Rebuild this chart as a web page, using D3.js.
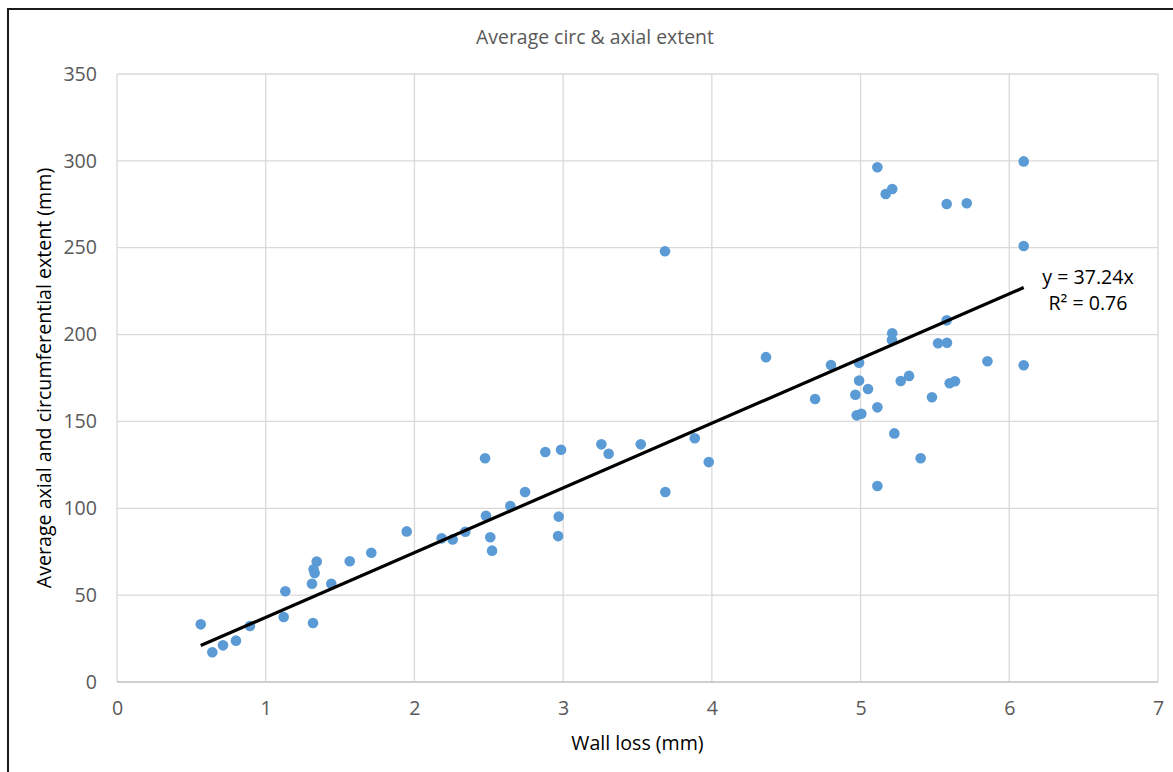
<!DOCTYPE html>
<html lang="en">
<head>
  <meta charset="UTF-8">
  <title>Average circ & axial extent</title>
  <script src="https://d3js.org/d3.v7.min.js"></script>
  <style>
    body { margin: 0; background: #fff; }
    svg text { font-family: 'Open Sans', sans-serif; }
  </style>
</head>
<body>
  <div id="canvas"></div>
  <script>
    // wall loss (mm) vs average axial/circumferential extent (mm)
    const wallLoss = [
      0.563, 0.641, 0.713, 0.80, 0.894, 1.121, 1.132, 1.311, 1.322, 1.329,
      1.318, 1.343, 1.441, 1.565, 1.71, 1.948, 2.183, 2.257, 2.342, 2.475,
      2.481, 2.51, 2.522, 2.645, 2.744, 2.88, 2.986, 2.97, 2.966, 3.257,
      3.306, 3.522, 3.685, 3.687, 3.885, 3.979, 4.364, 4.694, 4.801, 4.99,
      4.99, 5.27, 5.326, 5.05, 4.965, 5.599, 5.635, 5.48, 5.113, 4.974,
      5.005, 5.227, 5.404, 5.113, 5.113, 5.169, 5.213, 5.579, 5.714, 6.097,
      6.097, 6.097, 5.853, 5.579, 5.213, 5.211, 5.521, 5.581
    ];
    const extent = [
      33.2, 17.1, 21.1, 23.8, 32.2, 37.4, 52.2, 56.6, 64.9, 62.7,
      34.0, 69.3, 56.6, 69.5, 74.4, 86.7, 82.7, 82.1, 86.5, 128.8,
      95.7, 83.3, 75.6, 101.3, 109.4, 132.4, 133.7, 95.2, 84.0, 136.8,
      131.4, 136.8, 248.0, 109.4, 140.3, 126.6, 187.0, 162.9, 182.5, 183.8,
      173.5, 173.3, 176.2, 168.7, 165.4, 172.0, 173.1, 163.9, 158.1, 153.5,
      154.4, 143.1, 128.8, 112.8, 296.3, 280.9, 283.8, 275.2, 275.6, 299.7,
      251.0, 182.3, 184.6, 208.2, 200.7, 196.9, 195.0, 195.3
    ];
    const xTicks = [0, 1, 2, 3, 4, 5, 6, 7];
    const yTicks = [0, 50, 100, 150, 200, 250, 300, 350];
    const slope = 37.24;
    const eqLines = ['y = 37.24x', 'R\u00B2 = 0.76'];

    const width = 1173;
    const height = 772;
    const plotLeft = 117, plotRight = 1158, plotTop = 74, plotBottom = 682;
    const fontSize = '19.6px';

    const svg = d3.select('#canvas')
      .append('svg')
      .attr('width', width)
      .attr('height', height);

    svg.append('rect')
      .attr('width', width)
      .attr('height', height)
      .attr('fill', '#fff');

    // chart frame (only top and left edges show in the picture)
    svg.append('path')
      .attr('d', 'M8,' + (height + 5) + ' V9 H' + (width + 5))
      .attr('fill', 'none')
      .attr('stroke', '#1a1a1a')
      .attr('stroke-width', 2);

    const scaleX = d3.scaleLinear().domain([0, 7]).range([plotLeft, plotRight]);
    const scaleY = d3.scaleLinear().domain([0, 350]).range([plotBottom, plotTop]);

    // gridlines
    svg.append('g')
      .selectAll('line')
      .data(xTicks)
      .enter()
      .append('line')
      .attr('x1', d => scaleX(d))
      .attr('x2', d => scaleX(d))
      .attr('y1', plotTop)
      .attr('y2', plotBottom)
      .attr('stroke', '#d9d9d9')
      .attr('stroke-width', 1.3);
    svg.append('g')
      .selectAll('line')
      .data(yTicks)
      .enter()
      .append('line')
      .attr('x1', plotLeft)
      .attr('x2', plotRight)
      .attr('y1', d => scaleY(d))
      .attr('y2', d => scaleY(d))
      .attr('stroke', d => d === 0 ? '#bfbfbf' : '#d9d9d9')
      .attr('stroke-width', 1.3);

    // axes (labels only, Excel style)
    const xAxis = d3.axisBottom(scaleX).tickValues(xTicks).tickFormat(d3.format('d'))
      .tickSize(0).tickPadding(19);
    const gx = svg.append('g')
      .attr('transform', 'translate(0,' + plotBottom + ')')
      .call(xAxis);
    const yAxis = d3.axisLeft(scaleY).tickValues(yTicks).tickFormat(d3.format('d'))
      .tickSize(0).tickPadding(20);
    const gy = svg.append('g')
      .attr('transform', 'translate(' + plotLeft + ',0)')
      .call(yAxis);
    [gx, gy].forEach(g => {
      g.select('.domain').remove();
      g.selectAll('text')
        .style('font-family', "'Open Sans', sans-serif")
        .style('font-size', fontSize)
        .attr('fill', '#595959');
    });

    // points
    svg.append('g')
      .selectAll('circle')
      .data(wallLoss.map((d, i) => [d, extent[i]]))
      .enter()
      .append('circle')
      .attr('cx', d => scaleX(d[0]))
      .attr('cy', d => scaleY(d[1]))
      .attr('r', 5.3)
      .attr('fill', '#5b9bd5');

    // linear trendline through origin
    const x0 = d3.min(wallLoss), x1 = d3.max(wallLoss);
    svg.append('line')
      .attr('x1', scaleX(x0))
      .attr('y1', scaleY(slope * x0))
      .attr('x2', scaleX(x1))
      .attr('y2', scaleY(slope * x1))
      .attr('stroke', '#000')
      .attr('stroke-width', 3.2);

    svg.append('g')
      .selectAll('text')
      .data(eqLines)
      .enter()
      .append('text')
      .attr('x', 1088)
      .attr('y', (d, i) => 284 + i * 26)
      .attr('text-anchor', 'middle')
      .style('font-size', fontSize)
      .attr('fill', '#000')
      .text(d => d);

    // titles
    svg.append('text')
      .attr('x', 595)
      .attr('y', 44)
      .attr('text-anchor', 'middle')
      .style('font-size', '19.4px')
      .attr('fill', '#595959')
      .text('Average circ & axial extent');

    svg.append('text')
      .attr('x', (plotLeft + plotRight) / 2)
      .attr('y', 750)
      .attr('text-anchor', 'middle')
      .style('font-size', fontSize)
      .attr('fill', '#000')
      .text('Wall loss (mm)');

    svg.append('text')
      .attr('transform', 'translate(51,' + ((plotTop + plotBottom) / 2) + ') rotate(-90)')
      .attr('text-anchor', 'middle')
      .style('font-size', fontSize)
      .attr('fill', '#000')
      .text('Average axial and circumferential extent (mm)');
  </script>
</body>
</html>
